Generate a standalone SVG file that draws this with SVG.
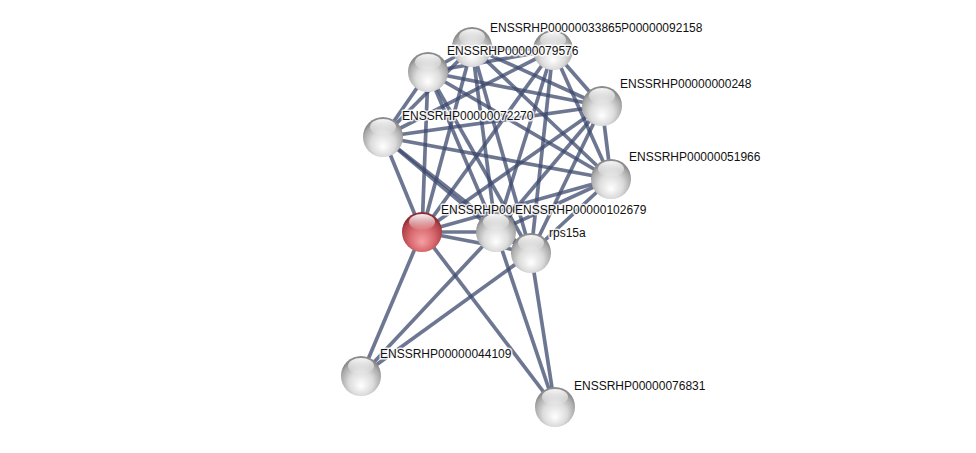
<svg xmlns="http://www.w3.org/2000/svg" width="976" height="453" viewBox="0 0 976 453">
<defs>
<radialGradient id="gw" cx="50%" cy="62%" r="55%" fx="50%" fy="75%">
<stop offset="0" stop-color="#ffffff"/>
<stop offset="0.55" stop-color="#dcdcdc"/>
<stop offset="0.9" stop-color="#a9a9a9"/>
<stop offset="1" stop-color="#8c8c8c"/>
</radialGradient>
<radialGradient id="gr" cx="50%" cy="62%" r="55%" fx="50%" fy="75%">
<stop offset="0" stop-color="#f5a0a4"/>
<stop offset="0.55" stop-color="#d96a70"/>
<stop offset="0.9" stop-color="#b3434a"/>
<stop offset="1" stop-color="#8e2e34"/>
</radialGradient>
<linearGradient id="hl" x1="0" y1="0" x2="0" y2="1">
<stop offset="0" stop-color="#ffffff" stop-opacity="0.95"/>
<stop offset="1" stop-color="#ffffff" stop-opacity="0.05"/>
</linearGradient>
<clipPath id="clipR"><rect x="430" y="195" width="84" height="25"/></clipPath>
</defs>
<style>
.e{stroke:#3e4a6e;stroke-opacity:0.75;stroke-width:3.7;fill:none}
.n{stroke:none}
.h{fill:url(#hl)}
text{font-family:"Liberation Sans",Arial,sans-serif;font-size:12px;fill:#111;stroke:#ffffff;stroke-width:3;stroke-opacity:0.85;paint-order:stroke;stroke-linejoin:round}
</style>
<rect width="976" height="453" fill="#ffffff"/>
<g id="edges">
<line class="e" x1="472" y1="47" x2="553" y2="50"/>
<line class="e" x1="472" y1="47" x2="428" y2="72"/>
<line class="e" x1="472" y1="47" x2="602" y2="106"/>
<line class="e" x1="472" y1="47" x2="383" y2="137"/>
<line class="e" x1="472" y1="47" x2="611" y2="179"/>
<line class="e" x1="472" y1="47" x2="422" y2="232"/>
<line class="e" x1="472" y1="47" x2="496" y2="232"/>
<line class="e" x1="472" y1="47" x2="531" y2="253"/>
<line class="e" x1="553" y1="50" x2="428" y2="72"/>
<line class="e" x1="553" y1="50" x2="602" y2="106"/>
<line class="e" x1="553" y1="50" x2="383" y2="137"/>
<line class="e" x1="553" y1="50" x2="611" y2="179"/>
<line class="e" x1="553" y1="50" x2="422" y2="232"/>
<line class="e" x1="553" y1="50" x2="496" y2="232"/>
<line class="e" x1="553" y1="50" x2="531" y2="253"/>
<line class="e" x1="428" y1="72" x2="602" y2="106"/>
<line class="e" x1="428" y1="72" x2="383" y2="137"/>
<line class="e" x1="428" y1="72" x2="611" y2="179"/>
<line class="e" x1="428" y1="72" x2="422" y2="232"/>
<line class="e" x1="428" y1="72" x2="496" y2="232"/>
<line class="e" x1="428" y1="72" x2="531" y2="253"/>
<line class="e" x1="602" y1="106" x2="383" y2="137"/>
<line class="e" x1="602" y1="106" x2="611" y2="179"/>
<line class="e" x1="602" y1="106" x2="422" y2="232"/>
<line class="e" x1="602" y1="106" x2="496" y2="232"/>
<line class="e" x1="602" y1="106" x2="531" y2="253"/>
<line class="e" x1="383" y1="137" x2="611" y2="179"/>
<line class="e" x1="383" y1="137" x2="422" y2="232"/>
<line class="e" x1="383" y1="137" x2="496" y2="232"/>
<line class="e" x1="383" y1="137" x2="531" y2="253"/>
<line class="e" x1="611" y1="179" x2="422" y2="232"/>
<line class="e" x1="611" y1="179" x2="496" y2="232"/>
<line class="e" x1="611" y1="179" x2="531" y2="253"/>
<line class="e" x1="422" y1="232" x2="496" y2="232"/>
<line class="e" x1="422" y1="232" x2="531" y2="253"/>
<line class="e" x1="496" y1="232" x2="531" y2="253"/>
<line class="e" x1="361" y1="376" x2="422" y2="232"/>
<line class="e" x1="361" y1="376" x2="496" y2="232"/>
<line class="e" x1="361" y1="376" x2="531" y2="253"/>
<line class="e" x1="555" y1="407" x2="422" y2="232"/>
<line class="e" x1="555" y1="407" x2="496" y2="232"/>
<line class="e" x1="555" y1="407" x2="531" y2="253"/>
</g>
<g id="n_92158"><circle class="n" cx="553" cy="50" r="20" fill="url(#gw)"/><ellipse class="h" cx="553" cy="40" rx="13" ry="8"/></g>
<g id="n_33865"><circle class="n" cx="472" cy="47" r="20" fill="url(#gw)"/><ellipse class="h" cx="472" cy="37" rx="13" ry="8"/></g>
<g id="n_79576"><circle class="n" cx="428" cy="72" r="20" fill="url(#gw)"/><ellipse class="h" cx="428" cy="62" rx="13" ry="8"/></g>
<g id="n_000248"><circle class="n" cx="602" cy="106" r="20" fill="url(#gw)"/><ellipse class="h" cx="602" cy="96" rx="13" ry="8"/></g>
<g id="n_72270"><circle class="n" cx="383" cy="137" r="20" fill="url(#gw)"/><ellipse class="h" cx="383" cy="127" rx="13" ry="8"/></g>
<g id="n_51966"><circle class="n" cx="611" cy="179" r="20" fill="url(#gw)"/><ellipse class="h" cx="611" cy="169" rx="13" ry="8"/></g>
<g id="n_query"><circle class="n" cx="422" cy="232" r="20" fill="url(#gr)"/><ellipse class="h" cx="422" cy="222" rx="13" ry="8"/></g>
<g id="n_102679"><circle class="n" cx="496" cy="232" r="20" fill="url(#gw)"/><ellipse class="h" cx="496" cy="222" rx="13" ry="8"/></g>
<g id="n_rps15a"><circle class="n" cx="531" cy="253" r="20" fill="url(#gw)"/><ellipse class="h" cx="531" cy="243" rx="13" ry="8"/></g>
<g id="n_44109"><circle class="n" cx="361" cy="376" r="20" fill="url(#gw)"/><ellipse class="h" cx="361" cy="366" rx="13" ry="8"/></g>
<g id="n_76831"><circle class="n" cx="555" cy="407" r="20" fill="url(#gw)"/><ellipse class="h" cx="555" cy="397" rx="13" ry="8"/></g>
<g id="labels">
<text x="621" y="32">P00000092158</text>
<text x="490" y="32">ENSSRHP00000033865</text>
<text x="447" y="55">ENSSRHP00000079576</text>
<text x="620" y="88">ENSSRHP00000000248</text>
<text x="402" y="120">ENSSRHP00000072270</text>
<text x="629" y="161">ENSSRHP00000051966</text>
<text x="441" y="214" clip-path="url(#clipR)">ENSSRHP000</text>
<text x="515" y="214">ENSSRHP00000102679</text>
<text x="549" y="237">rps15a</text>
<text x="380" y="358">ENSSRHP00000044109</text>
<text x="574" y="390">ENSSRHP00000076831</text>
</g>
</svg>
